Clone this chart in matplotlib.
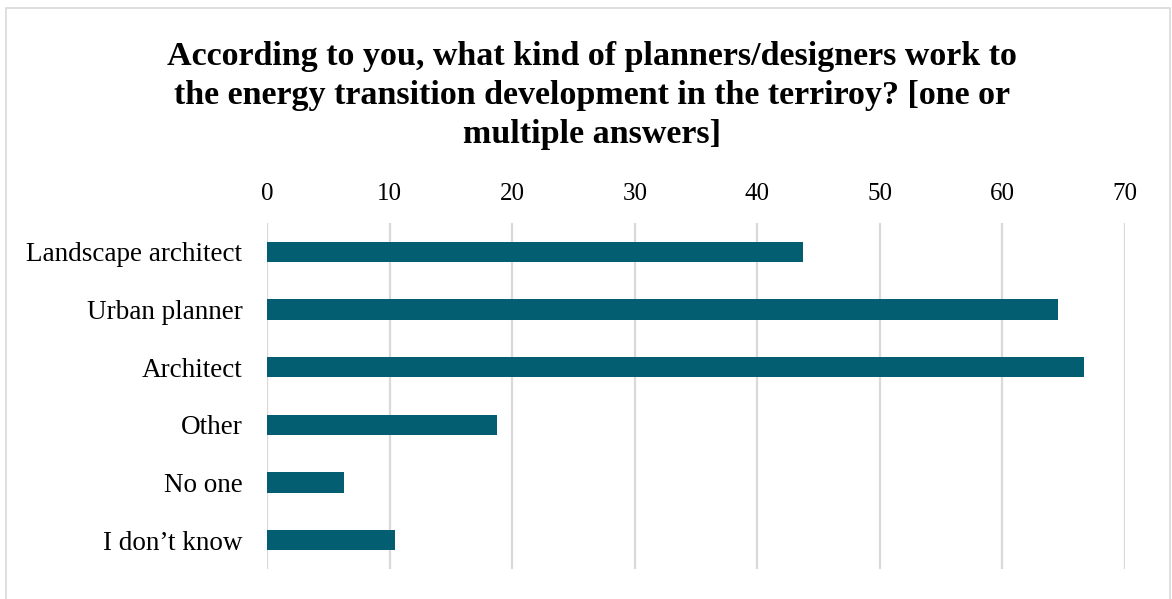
import matplotlib.pyplot as plt
from matplotlib.patches import Rectangle

categories = ['Landscape architect', 'Urban planner', 'Architect', 'Other', 'No one', 'I don\u2019t know']
values = [43.75, 64.58, 66.67, 18.75, 6.25, 10.42]
ticks = [0, 10, 20, 30, 40, 50, 60, 70]

title = ('According to you, what kind of planners/designers work to\n'
         'the energy transition development in the terriroy? [one or\n'
         'multiple answers]')

plt.rcParams['font.family'] = ['Liberation Serif', 'DejaVu Serif']

fig = plt.figure(figsize=(11.72, 5.99), dpi=100)
ax = fig.add_axes([0.2281, 0.0501, 0.9597 - 0.2281, 0.6277 - 0.0501])

pos = list(range(len(categories)))
ax.barh(pos, values, height=0.35, color='#035E71', zorder=3)

ax.set_ylim(len(categories) - 0.5, -0.5)
ax.set_xlim(0, 70)
ax.set_xticks(ticks)
ax.set_yticks(pos)
ax.set_yticklabels(categories, fontsize=19.5)
ax.xaxis.tick_top()
ax.tick_params(axis='x', labelsize=18, length=0, pad=13)
ax.tick_params(axis='y', length=0, pad=18)
ax.grid(axis='x', color='#D9D9D9', linewidth=1.6, zorder=0)
for s in ax.spines.values():
    s.set_visible(False)

fig.text(0.505, 0.932, title, ha='center', va='top', fontsize=24.5,
         fontweight='bold', linespacing=1.33)

# chart border
fig.patches.append(Rectangle((6 / 1172, -0.01), (1170 - 6) / 1172, 1 - 8 / 599 + 0.01,
                             transform=fig.transFigure, fill=False,
                             edgecolor='#D9D9D9', linewidth=1.2))

fig.savefig('out.png', dpi=100)
